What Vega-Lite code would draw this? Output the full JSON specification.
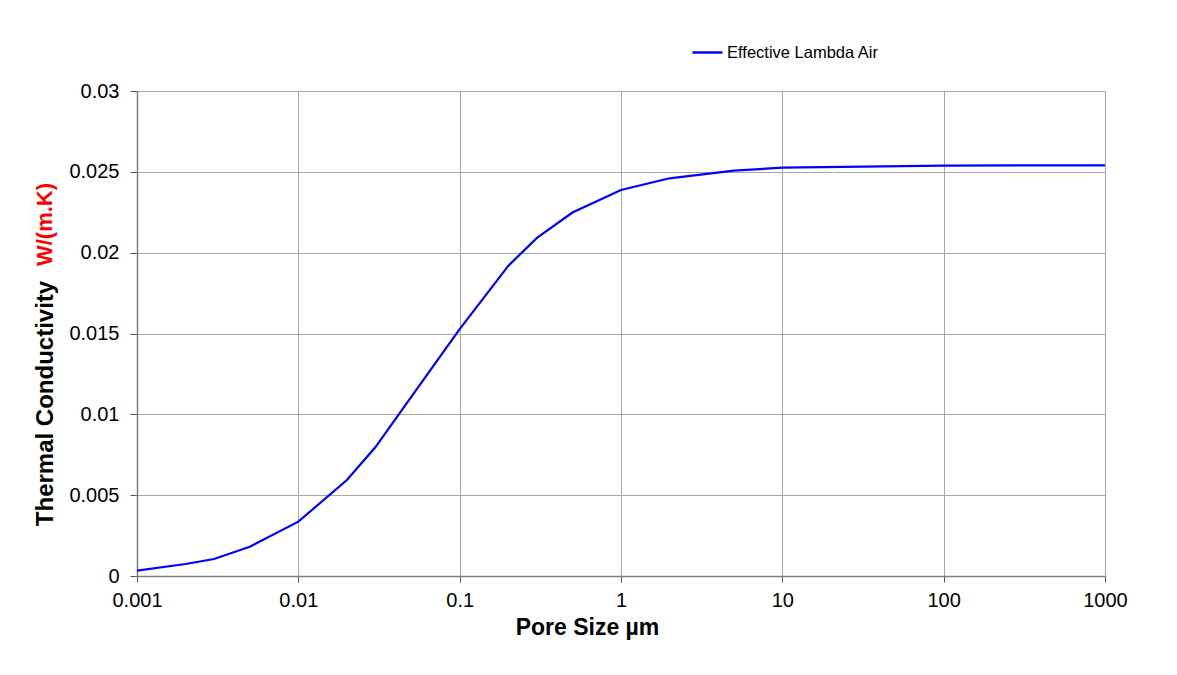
{
  "$schema": "https://vega.github.io/schema/vega-lite/v6.json",
  "width": 968,
  "height": 485,
  "autosize": "none",
  "padding": {"left": 137, "top": 91, "right": 72, "bottom": 99},
  "background": "white",
  "config": {
    "font": "Liberation Sans",
    "view": {"stroke": null},
    "axis": {
      "labelFont": "Liberation Sans",
      "titleFont": "Liberation Sans",
      "labelColor": "#000000",
      "titleColor": "#000000",
      "gridColor": "#a6a6a6",
      "gridWidth": 1,
      "gridOpacity": 1,
      "domainColor": "#7f7f7f",
      "domainWidth": 1.5,
      "tickColor": "#555555",
      "tickWidth": 1,
      "labelFlush": false,
      "labelOverlap": false
    }
  },
  "data": {
    "values": [
      {"pore": 0.001, "k": 0.00033, "series": "Effective Lambda Air"},
      {"pore": 0.002, "k": 0.00074, "series": "Effective Lambda Air"},
      {"pore": 0.003, "k": 0.00105, "series": "Effective Lambda Air"},
      {"pore": 0.005, "k": 0.00181, "series": "Effective Lambda Air"},
      {"pore": 0.01, "k": 0.00336, "series": "Effective Lambda Air"},
      {"pore": 0.02, "k": 0.00594, "series": "Effective Lambda Air"},
      {"pore": 0.03, "k": 0.00796, "series": "Effective Lambda Air"},
      {"pore": 0.05, "k": 0.01107, "series": "Effective Lambda Air"},
      {"pore": 0.1, "k": 0.01527, "series": "Effective Lambda Air"},
      {"pore": 0.2, "k": 0.01918, "series": "Effective Lambda Air"},
      {"pore": 0.3, "k": 0.0209, "series": "Effective Lambda Air"},
      {"pore": 0.5, "k": 0.02248, "series": "Effective Lambda Air"},
      {"pore": 1, "k": 0.02388, "series": "Effective Lambda Air"},
      {"pore": 2, "k": 0.0246, "series": "Effective Lambda Air"},
      {"pore": 5, "k": 0.02507, "series": "Effective Lambda Air"},
      {"pore": 10, "k": 0.02526, "series": "Effective Lambda Air"},
      {"pore": 100, "k": 0.02539, "series": "Effective Lambda Air"},
      {"pore": 1000, "k": 0.0254, "series": "Effective Lambda Air"}
    ]
  },
  "resolve": {"axis": {"y": "independent"}},
  "layer": [
    {
      "mark": {"type": "line", "strokeWidth": 2.2, "clip": true},
      "encoding": {
        "x": {
          "field": "pore",
          "type": "quantitative",
          "scale": {"type": "log", "domain": [0.001, 1000], "nice": false},
          "axis": {
            "values": [0.001, 0.01, 0.1, 1, 10, 100, 1000],
            "format": "~g",
            "labelFontSize": 20,
            "labelPadding": 8,
            "tickSize": 6,
            "title": "Pore Size µm",
            "titleFontSize": 23,
            "titleFontWeight": "bold",
            "titleX": 450,
            "titleY": 40,
            "titleBaseline": "top",
            "titleAlign": "center"
          }
        },
        "y": {
          "field": "k",
          "type": "quantitative",
          "scale": {"domain": [0, 0.03], "nice": false, "zero": true},
          "axis": {
            "values": [0, 0.005, 0.01, 0.015, 0.02, 0.025, 0.03],
            "format": "~g",
            "labelFontSize": 20,
            "labelPadding": 11,
            "tickSize": 7,
            "title": "Thermal Conductivity",
            "titleFontSize": 24,
            "titleFontWeight": "bold",
            "titleX": -92,
            "titleY": 312,
            "titleAngle": -90,
            "titleAlign": "center",
            "titleBaseline": "middle"
          }
        },
        "color": {
          "field": "series",
          "type": "nominal",
          "scale": {"domain": ["Effective Lambda Air"], "range": ["#0000ff"]},
          "legend": {
            "title": null,
            "orient": "none",
            "legendX": 554,
            "legendY": -55,
            "padding": 0,
            "symbolType": "stroke",
            "symbolSize": 900,
            "symbolStrokeWidth": 2.5,
            "labelFont": "Liberation Sans",
            "labelFontSize": 16.5,
            "labelColor": "#000000",
            "labelOffset": 3
          }
        }
      }
    },
    {
      "mark": {"type": "line", "opacity": 0},
      "encoding": {
        "x": {"field": "pore", "type": "quantitative"},
        "y": {
          "field": "k",
          "type": "quantitative",
          "axis": {
            "orient": "left",
            "labels": false,
            "ticks": false,
            "domain": false,
            "grid": false,
            "title": "W/(m.K)",
            "titleColor": "#ff0000",
            "titleFontSize": 22,
            "titleFontWeight": "bold",
            "titleX": -93,
            "titleY": 133,
            "titleAngle": -90,
            "titleAlign": "center",
            "titleBaseline": "middle"
          }
        }
      }
    }
  ]
}
